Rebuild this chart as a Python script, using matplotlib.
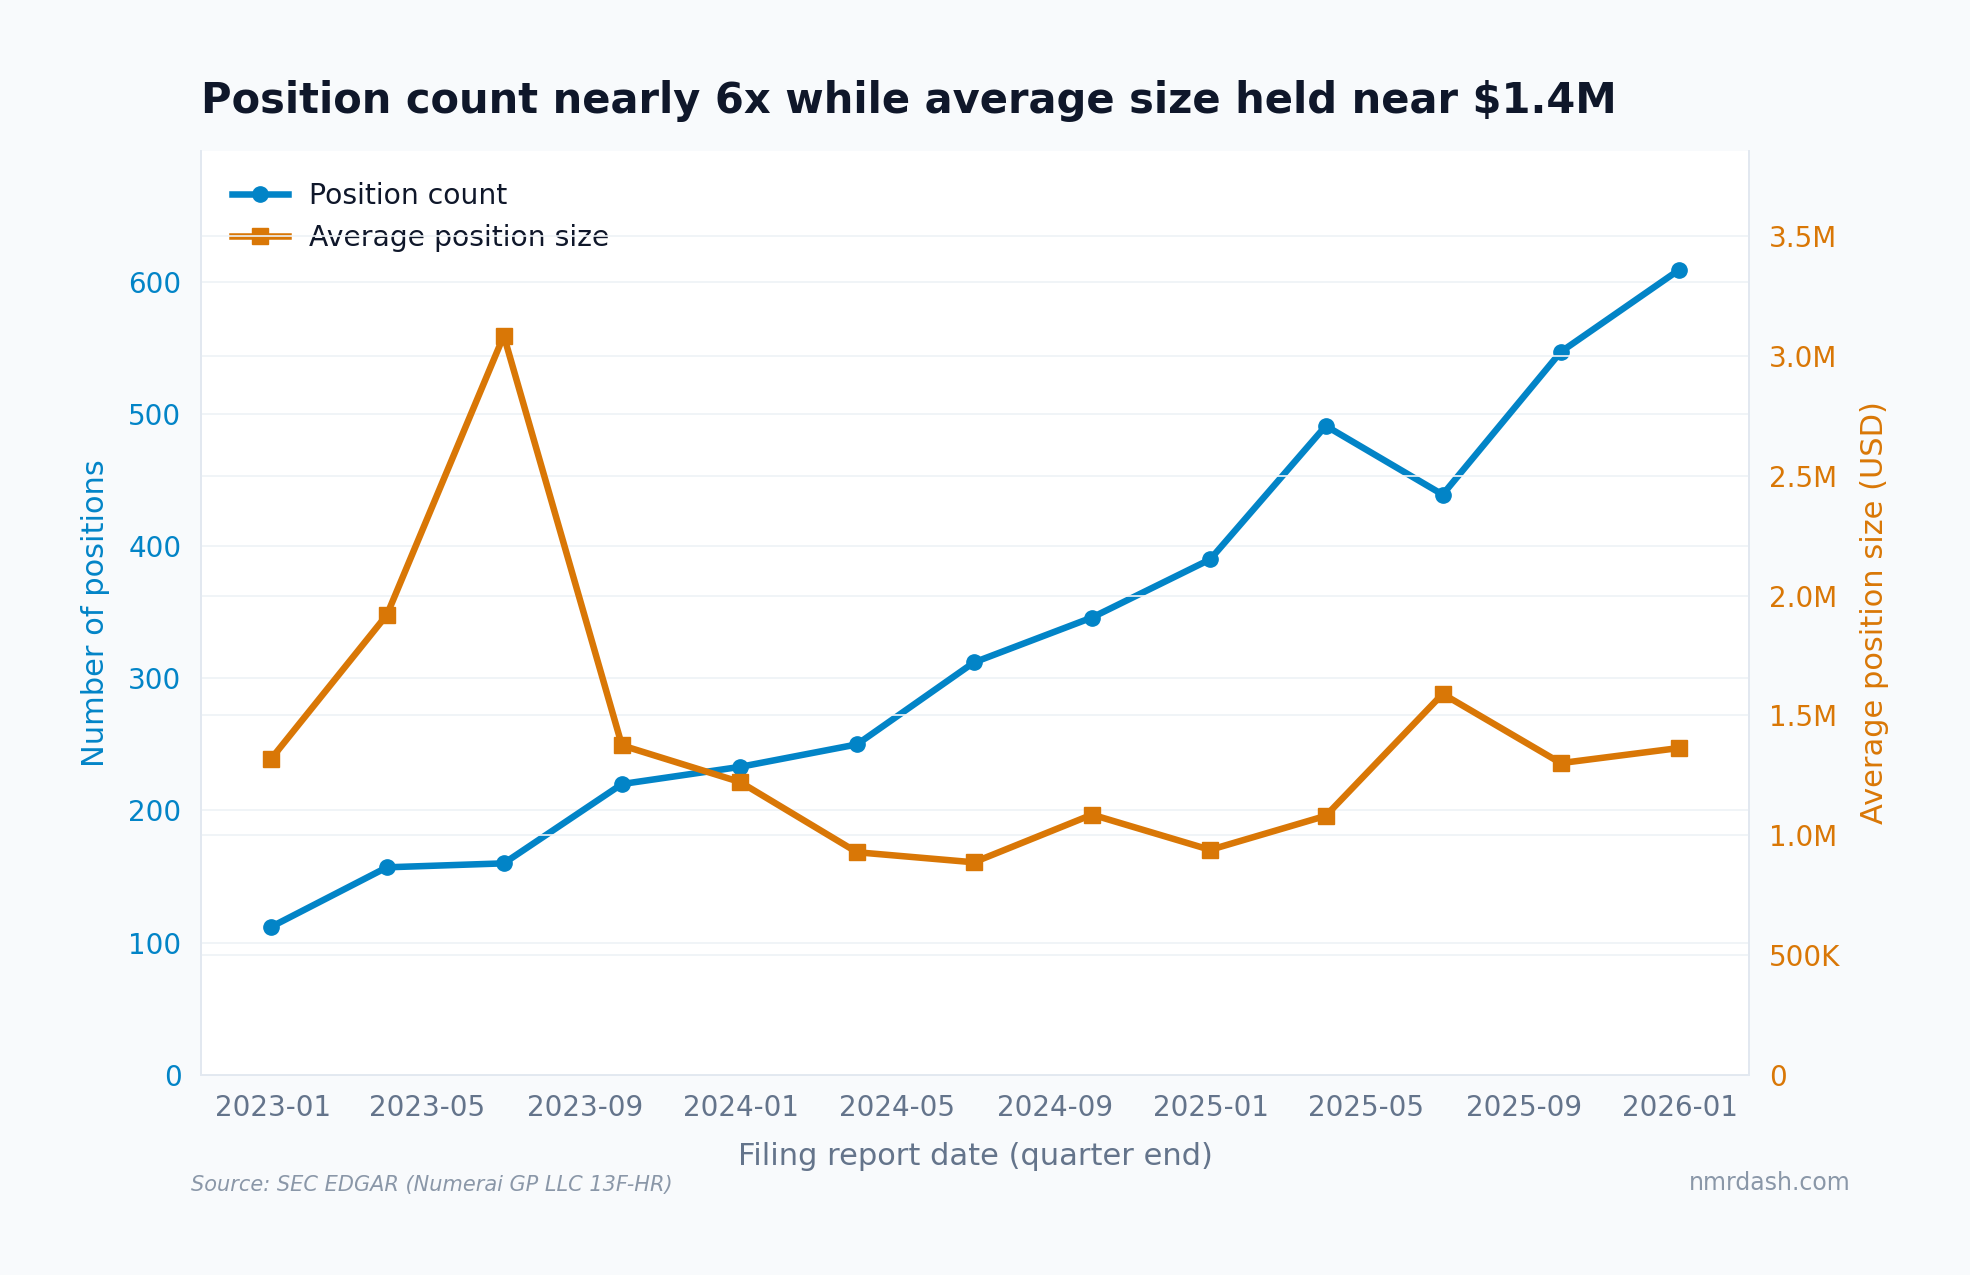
import numpy as np
import pandas as pd
import matplotlib
matplotlib.use('Agg')
import matplotlib.pyplot as plt
import matplotlib.dates as mdates
from matplotlib.ticker import FuncFormatter

# quarter-end filing dates
dates = pd.to_datetime(['2022-12-31', '2023-03-31', '2023-06-30', '2023-09-30',
                        '2023-12-31', '2024-03-31', '2024-06-30', '2024-09-30',
                        '2024-12-31', '2025-03-31', '2025-06-30', '2025-09-30',
                        '2025-12-31'])
position_count = [112, 157, 160, 220, 233, 250, 312, 346, 390, 491, 439, 547, 609]
avg_size = [1.32e6, 1.92e6, 3.085e6, 1.375e6, 1.222e6, 0.929e6, 0.887e6,
            1.086e6, 0.939e6, 1.081e6, 1.59e6, 1.301e6, 1.364e6]

BLUE = '#0284c7'
ORANGE = '#d97706'
BG = '#f8fafc'
GRID = '#eef2f6'
SPINE = '#e2e8f0'

plt.rcParams['font.family'] = ['DejaVu Sans']

fig = plt.figure(figsize=(19.7, 12.75), dpi=100, facecolor=BG)
ax = fig.add_axes([0.102, 0.157, 0.786, 0.7246])
ax.set_facecolor('white')

l1, = ax.plot(dates, position_count, color=BLUE, lw=4.7, marker='o', ms=11,
              label='Position count', zorder=3)
ax.set_ylim(0, 699)
ax.set_yticks(range(0, 700, 100))
ax.grid(axis='y', color=GRID, lw=1.2)
ax.set_ylabel('Number of positions', color=BLUE, fontsize=22, labelpad=13)
ax.tick_params(axis='y', colors=BLUE, labelsize=20, length=0, pad=14)
ax.tick_params(axis='x', colors='#64748b', labelsize=20, length=0, pad=14)
ax.xaxis.set_major_locator(mdates.MonthLocator(bymonth=[1, 5, 9]))
ax.xaxis.set_major_formatter(mdates.DateFormatter('%Y-%m'))
ax.set_xlabel('Filing report date (quarter end)', color='#64748b', fontsize=22,
              labelpad=14)

ax2 = ax.twinx()
l2, = ax2.plot(dates, avg_size, color=ORANGE, lw=4.7, marker='s', ms=11,
               label='Average position size', zorder=3)
ax2.set_ylim(0, 3.856e6)
ax2.grid(axis='y', color=GRID, lw=1.2)


def money(v, pos):
    if v == 0:
        return '0'
    if v < 1e6:
        return '%.0fK' % (v / 1e3)
    return '%.1fM' % (v / 1e6)


ax2.yaxis.set_major_formatter(FuncFormatter(money))
ax2.set_ylabel('Average position size (USD)', color=ORANGE, fontsize=22, labelpad=14)
ax2.tick_params(axis='y', colors=ORANGE, labelsize=20, length=0, pad=14)

for a in (ax, ax2):
    a.spines['top'].set_visible(False)
    for s in ('left', 'right', 'bottom'):
        a.spines[s].set_color(SPINE)
        a.spines[s].set_linewidth(1.2)

leg = ax.legend(handles=[l1, l2], loc='upper left', frameon=False, fontsize=20.3,
                borderaxespad=0.7, handlelength=2.0, handletextpad=0.75)
for t in leg.get_texts():
    t.set_color('#0f172a')

fig.text(0.102, 0.921, 'Position count nearly 6x while average size held near $1.4M',
         fontsize=30, fontweight='bold', color='#0f172a', va='center', ha='left')
fig.text(0.097, 0.0706, 'Source: SEC EDGAR (Numerai GP LLC 13F-HR)', fontsize=15,
         style='italic', color='#8a97a8', va='center', ha='left')
fig.text(0.9395, 0.0722, 'nmrdash.com', fontsize=17, color='#8a97a8',
         va='center', ha='right')

fig.savefig('out.png', dpi=100, facecolor=BG)
